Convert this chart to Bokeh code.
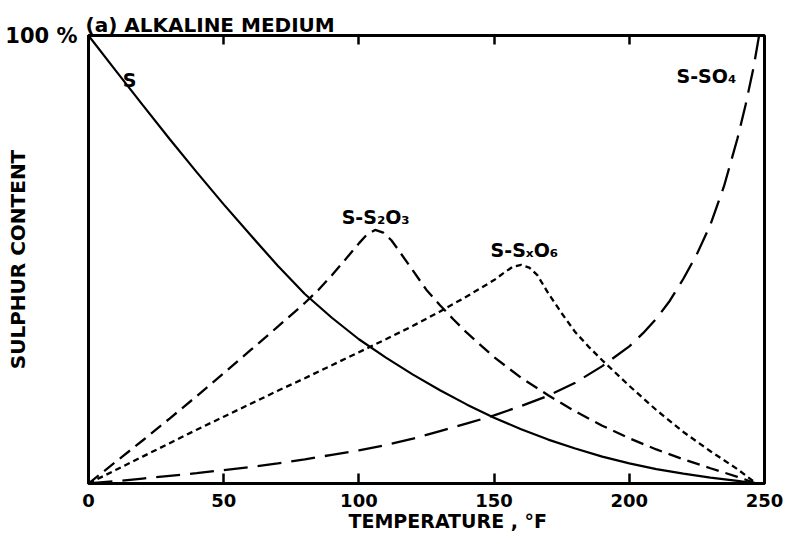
from bokeh.plotting import figure
from bokeh.models import Range1d, LinearAxis, FixedTicker, Label, Title
from bokeh.embed import file_html
from bokeh.resources import INLINE

FONT = "DejaVu Sans"

title_text = "(a) ALKALINE MEDIUM"
y_label = "SULPHUR CONTENT"
x_label = "TEMPERATURE , °F"
y_top_label = "100 %"

x_ticks = [0, 50, 100, 150, 200, 250]
top_ticks = [50, 100, 150, 200]
y_ticks = [100]

# S (solid)
s_x = [0, 10, 20, 30, 40, 50, 60, 70, 80, 90, 100, 110, 120, 130, 140, 150,
       160, 170, 180, 190, 200, 210, 220, 230, 240, 247]
s_y = [100, 92.2, 84.5, 76.9, 69.5, 62.3, 55.4, 48.6, 42.3, 37.0, 32.2, 28.1,
       24.3, 20.8, 17.6, 14.7, 12.1, 9.8, 7.8, 6.0, 4.5, 3.2, 2.2, 1.3, 0.6, 0]

# S-S2O3 (medium dashes)
s2o3_x = [0, 10, 20, 30, 40, 50, 60, 70, 80, 85, 90, 95, 100, 103, 106, 109,
          112, 115, 120, 125, 130, 135, 140, 150, 160, 170, 180, 190, 200, 210,
          220, 230, 240, 247]
s2o3_y = [0, 4.8, 9.6, 14.5, 19.5, 24.6, 29.8, 35, 40.3, 43.2, 46.5, 50,
          53.6, 55.6, 56.6, 56, 54.3, 51.8, 47.5, 43.2, 39.8, 36.6, 33.6, 28.2,
          23.6, 19.7, 16.1, 12.9, 10.1, 7.6, 5.4, 3.4, 1.5, 0]

# S-SxO6 (short dashes)
sxo6_x = [0, 10, 20, 30, 40, 50, 60, 70, 80, 90, 100, 110, 120, 130, 140,
          150, 154, 157, 160, 163, 166, 170, 175, 180, 185, 190, 200, 210, 220,
          230, 240, 247]
sxo6_y = [0, 3, 6, 9, 12, 14.9, 17.8, 20.7, 23.5, 26.4, 29.3, 32.2, 35.2,
          38.4, 41.8, 45.4, 47.2, 48.4, 48.8, 48.2, 46.5, 42.5, 38, 33.8, 30.5,
          27.5, 21.8, 16.4, 11.5, 7.2, 3.2, 0]

# S-SO4 (long dashes)
so4_x = [0, 10, 20, 30, 40, 50, 60, 70, 80, 90, 100, 110, 120, 130, 140, 150,
         160, 170, 180, 190, 200, 205, 210, 215, 220, 225, 230, 235, 240,
         243, 246, 248]
so4_y = [0, 0.5, 1.1, 1.7, 2.3, 3.0, 3.7, 4.5, 5.4, 6.4, 7.4, 8.6, 10, 11.7,
         13.4, 15.2, 17.3, 19.6, 22.5, 26.2, 30.6, 33.5, 36.8, 40.8, 45.7,
         51.2, 57.8, 66.3, 77, 84.5, 93, 100]

p = figure(width=788, height=535, x_range=Range1d(0, 250), y_range=Range1d(0, 100),
           output_backend="svg", toolbar_location=None,
           x_axis_location=None, y_axis_location=None,
           min_border_left=88, min_border_right=24,
           min_border_top=35, min_border_bottom=52)
p.grid.visible = False
p.outline_line_color = "black"
p.outline_line_width = 3
p.background_fill_color = "white"
p.border_fill_color = "white"

# title
p.title.text = title_text
p.title.align = "left"
p.title.offset = -3
p.title.standoff = -2
p.title.text_font = FONT
p.title.text_font_style = "bold"
p.title.text_font_size = "20px"
p.title.text_color = "black"

# bottom axis
xa = LinearAxis(ticker=FixedTicker(ticks=x_ticks))
xa.axis_line_width = 3
xa.major_tick_in = 10
xa.major_tick_out = 0
xa.major_tick_line_width = 2.5
xa.minor_tick_line_color = None
xa.major_label_text_font = FONT
xa.major_label_text_font_style = "bold"
xa.major_label_text_font_size = "18px"
xa.major_label_text_color = "black"
xa.major_label_standoff = 10
p.add_layout(xa, "below")

xt = Title(text=x_label, align="left", offset=260, standoff=-4,
           text_font=FONT, text_font_style="bold", text_font_size="19px",
           text_color="black")
p.add_layout(xt, "below")

# top axis (ticks only)
ta = LinearAxis(ticker=FixedTicker(ticks=top_ticks))
ta.axis_line_width = 3
ta.major_tick_in = 9
ta.major_tick_out = 0
ta.major_tick_line_width = 2.5
ta.minor_tick_line_color = None
ta.major_label_overrides = {t: "" for t in top_ticks}
ta.major_label_text_font_size = "0px"
ta.major_label_standoff = 0
p.add_layout(ta, "above")

# left axis: only the 100 % label and the axis title
ya = LinearAxis(ticker=FixedTicker(ticks=y_ticks))
ya.axis_line_width = 3
ya.major_tick_in = 0
ya.major_tick_out = 0
ya.minor_tick_line_color = None
ya.major_label_overrides = {100: y_top_label}
ya.major_label_text_font = FONT
ya.major_label_text_font_style = "bold"
ya.major_label_text_font_size = "21px"
ya.major_label_text_color = "black"
ya.major_label_standoff = 11
ya.axis_label = y_label
ya.axis_label_text_font = FONT
ya.axis_label_text_font_style = "bold"
ya.axis_label_text_font_size = "20px"
ya.axis_label_text_color = "black"
ya.axis_label_standoff = -28
p.add_layout(ya, "left")

p.line(s_x, s_y, line_color="black", line_width=2.2)
p.line(s2o3_x, s2o3_y, line_color="black", line_width=2.3, line_dash="13 7")
p.line(sxo6_x, sxo6_y, line_color="black", line_width=2.3, line_dash="6 4")
p.line(so4_x, so4_y, line_color="black", line_width=2.3, line_dash="24 10")

def lab(x, y, text, size):
    p.add_layout(Label(x=x, y=y, text=text, text_font=FONT, text_font_style="bold",
                       text_font_size=size, text_color="black", text_align="center",
                       text_baseline="middle"))

lab(15.2, 90, "S", "19px")
lab(106.2, 59.5, "S-S₂O₃", "19px")
lab(161.2, 52.1, "S-SₓO₆", "19px")
lab(228.5, 90.9, "S-SO₄", "19px")

open("out.html", "w").write(file_html(p, INLINE))
